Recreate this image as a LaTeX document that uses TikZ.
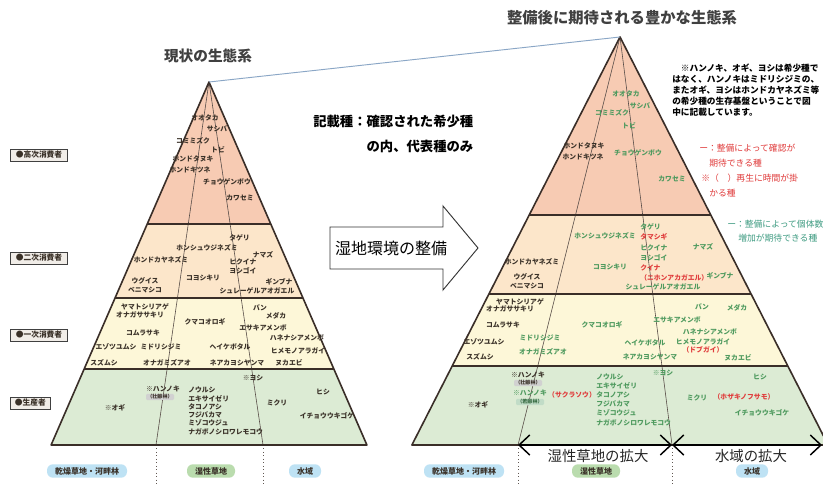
\documentclass[tikz,border=0pt]{standalone}
\usepackage{fontspec}
\setmainfont{Noto Sans CJK JP}
\usetikzlibrary{arrows.meta}
\definecolor{layA}{HTML}{F7CBB3}
\definecolor{layB}{HTML}{FCE6CA}
\definecolor{layC}{HTML}{FDF7D8}
\definecolor{layD}{HTML}{DCEBD4}
\definecolor{edgec}{HTML}{3A2E28}
\definecolor{grn}{HTML}{4E9A5E}
\definecolor{tealc}{HTML}{3F9C82}
\definecolor{redc}{HTML}{E03C3C}
\definecolor{pillb}{HTML}{BEE2F4}
\definecolor{pillg}{HTML}{BADCAE}
\definecolor{boxbg}{HTML}{F1EDE8}
\definecolor{linkc}{HTML}{8AA6C6}
\definecolor{txt}{HTML}{3A3128}
\tikzset{
  sp/.style={font=\fontsize{5.1}{5.5}\selectfont\bfseries, inner sep=0pt, text=txt},
  spg/.style={sp, text=grn},
  spr/.style={sp, text=redc},
  layer/.style={draw=edgec, line width=1.2pt, line join=round},
  inner/.style={draw=edgec!85, line width=0.45pt},
  dots/.style={draw=edgec!80, line width=0.6pt, dotted},
  lvl/.style={draw=black!75, fill=boxbg, line width=0.5pt, font=\fontsize{5.8}{6}\selectfont\bfseries, inner sep=1.5pt, minimum height=9pt, anchor=west, text=txt},
  pill/.style={rounded corners=4.5pt, font=\fontsize{6}{7}\selectfont\bfseries, inner xsep=6pt, inner ysep=2.2pt, text=txt},
  ttl/.style={font=\fontsize{11}{12}\selectfont\bfseries, text=black!75},
  big/.style={font=\fontsize{10.8}{12}\selectfont, text=black!85},
  dbl/.style={line width=1.3pt, {Straight Barb[length=8pt,width=15pt,line width=1.1pt]}-{Straight Barb[length=8pt,width=15pt,line width=1.1pt]}},
  agebox/.style={sp, font=\fontsize{3.8}{4}\selectfont\bfseries, rounded corners=1pt, inner xsep=1pt, inner ysep=0.6pt}
}
\begin{document}
\begin{tikzpicture}[x=0.75pt,y=-0.75pt]
\useasboundingbox (0,0) rectangle (823,484);
\fill[white] (0,0) rectangle (823,484);

% ---------- left pyramid ----------
\coordinate (LA) at (209,82);
\fill[layA] (LA) -- (270.8,224) -- (147.2,224) -- cycle;
\fill[layB] (147.2,224) -- (270.8,224) -- (303,298) -- (115,298) -- cycle;
\fill[layC] (115,298) -- (303,298) -- (333.8,369) -- (84.2,369) -- cycle;
\fill[layD] (84.2,369) -- (333.8,369) -- (366.9,445) -- (51.1,445) -- cycle;
\coordinate (LB1) at (156,445);
\coordinate (LB2) at (263,445);
\coordinate (LE1) at (156,484);
\coordinate (LE2) at (263,484);
\draw[inner] (LA) -- (LB1);
\draw[inner] (LA) -- (LB2);
\draw[dots] (LB1) -- (LE1);
\draw[dots] (LB2) -- (LE2);
\draw[layer] (LA) -- (366.9,445) -- (51.1,445) -- cycle;
\draw[layer] (147.2,224) -- (270.8,224);
\draw[layer] (115,298) -- (303,298);
\draw[layer] (84.2,369) -- (333.8,369);

% ---------- right pyramid ----------
\coordinate (RA) at (620,37);
\fill[layA] (RA) -- (710.8,215) -- (529.2,215) -- cycle;
\fill[layB] (529.2,215) -- (710.8,215) -- (751.1,294) -- (488.9,294) -- cycle;
\fill[layC] (488.9,294) -- (751.1,294) -- (787.8,366) -- (452.2,366) -- cycle;
\fill[layD] (452.2,366) -- (787.8,366) -- (828.1,445) -- (411.9,445) -- cycle;
\coordinate (RB1) at (518,445);
\coordinate (RB2) at (672,445);
\coordinate (RB3) at (822,445);
\coordinate (RE1) at (518,484);
\coordinate (RE2) at (672,484);
\draw[inner] (RA) -- (RB1);
\draw[inner] (RA) -- (RB2);
\draw[dots] (RB1) -- (RE1);
\draw[dots] (RB2) -- (RE2);
\draw[layer] (RA) -- (828.1,445) -- (411.9,445) -- cycle;
\draw[layer] (529.2,215) -- (710.8,215);
\draw[layer] (488.9,294) -- (751.1,294);
\draw[layer] (452.2,366) -- (787.8,366);

% link between apexes
\draw[linkc, line width=0.7pt] (LA) -- (RA);

% titles
\node[ttl] (t1) at (208,56) {現状の生態系};
\node[ttl, font=\fontsize{11.5}{12}\selectfont\bfseries] (t2) at (622,18) {整備後に期待される豊かな生態系};

% level boxes
\node[lvl, minimum width=43pt] (v1) at (10,155) {●高次消費者};
\node[lvl, minimum width=43pt] (v2) at (10,258) {●二次消費者};
\node[lvl, minimum width=43pt] (v3) at (10,335) {●一次消費者};
\node[lvl, minimum width=30pt] (v4) at (10,403) {●生産者};

% central texts
\node[font=\fontsize{10}{11}\selectfont\bfseries, anchor=east, text=black] (k1) at (478,121) {記載種：確認された希少種};
\node[font=\fontsize{10}{11}\selectfont\bfseries, anchor=east, text=black] (k2) at (478,146) {の内、代表種のみ};
\draw[fill=white, line width=0.7pt, draw=black!80] (330,227) -- (443,227) -- (443,206) -- (478,248) -- (443,290) -- (443,269) -- (330,269) -- cycle;
\node[font=\fontsize{12}{13}\selectfont, text=black] (ar) at (391,248) {湿地環境の整備};

% note
\node[anchor=west, align=left, font=\fontsize{6.5}{8.25}\selectfont\bfseries, text=black, inner sep=0pt] (nt) at (672,90)
 {　※ハンノキ、オギ、ヨシは希少種で\\はなく、ハンノキはミドリシジミの、\\またオギ、ヨシはホンドカヤネズミ等\\の希少種の生存基盤ということで図\\中に記載しています。};

% legends
\node[anchor=west, font=\fontsize{6.6}{7}\selectfont, text=redc, inner sep=0pt] (g1) at (699,148) {ー：整備によって確認が};
\node[anchor=west, font=\fontsize{6.6}{7}\selectfont, text=redc, inner sep=0pt] (g2) at (709,163) {期待できる種};
\node[anchor=west, font=\fontsize{6.6}{7}\selectfont, text=redc, inner sep=0pt] (g3) at (701,178) {※（　）再生に時間が掛};
\node[anchor=west, font=\fontsize{6.6}{7}\selectfont, text=redc, inner sep=0pt] (g4) at (709,193) {かる種};
\node[anchor=west, font=\fontsize{6.6}{7}\selectfont, text=tealc, inner sep=0pt] (g5) at (727,224) {ー：整備によって個体数};
\node[anchor=west, font=\fontsize{6.6}{7}\selectfont, text=tealc, inner sep=0pt] (g6) at (738,238) {増加が期待できる種};

% ---------- left pyramid texts ----------
\node[sp] (L1) at (205,118) {オオタカ};
\node[sp] (L2) at (217,129) {サシバ};
\node[sp] (L3) at (193,141) {コミミズク};
\node[sp] (L4) at (218,150) {トビ};
\node[sp] (L5) at (193,159) {ホンドタヌキ};
\node[sp] (L6) at (190,170) {ホンドキツネ};
\node[sp] (L7) at (227,182) {チョウゲンボウ};
\node[sp] (L8) at (240,198) {カワセミ};
\node[sp, anchor=west] (L9) at (229,238) {タゲリ};
\node[sp] (L10) at (207,248) {ホンシュウジネズミ};
\node[sp] (L11) at (263,255) {ナマズ};
\node[sp] (L12) at (161,260) {ホンドカヤネズミ};
\node[sp, anchor=west] (L13) at (229,262) {ヒクイナ};
\node[sp, anchor=west] (L14) at (229,271) {ヨシゴイ};
\node[sp] (L15) at (145,281) {ウグイス};
\node[sp] (L16) at (203,278) {コヨシキリ};
\node[sp] (L17) at (279,282) {ギンブナ};
\node[sp] (L18) at (145,290) {ベニマシコ};
\node[sp] (L19) at (257,291) {シュレーゲルアオガエル};
\node[sp] (L20) at (145,307) {ヤマトシリアゲ};
\node[sp] (L21) at (140,315) {オナガササキリ};
\node[sp] (L22) at (260,308) {バン};
\node[sp] (L23) at (276,316) {メダカ};
\node[sp] (L24) at (205,322) {クマコオロギ};
\node[sp] (L25) at (263,328) {エサキアメンボ};
\node[sp] (L26) at (143,333) {コムラサキ};
\node[sp] (L27) at (297,338) {ハネナシアメンボ};
\node[sp] (L28) at (116,347) {エゾツユムシ};
\node[sp] (L29) at (161,347) {ミドリシジミ};
\node[sp] (L30) at (230,347) {ヘイケボタル};
\node[sp] (L31) at (298,351) {ヒメモノアラガイ};
\node[sp] (L32) at (104,363) {スズムシ};
\node[sp] (L33) at (167,363) {オナガミズアオ};
\node[sp] (L34) at (237,363) {ネアカヨシヤンマ};
\node[sp] (L35) at (289,363) {ヌカエビ};
\node[sp] (L36) at (253,378) {※ヨシ};
\node[sp] (L37) at (163,389) {※ハンノキ};
\node[agebox, fill=black!18] (L38) at (160,397) {（壮齢林）};
\node[sp, anchor=west] (L39) at (188,390) {ノウルシ};
\node[sp, anchor=west] (L40) at (188,399) {エキサイゼリ};
\node[sp, anchor=west] (L41) at (188,407) {タコノアシ};
\node[sp, anchor=west] (L42) at (188,415) {フジバカマ};
\node[sp, anchor=west] (L43) at (188,423) {ミゾコウジュ};
\node[sp, anchor=west] (L44) at (188,432) {ナガボノシロワレモコウ};
\node[sp] (L45) at (115,408) {※オギ};
\node[sp] (L46) at (277,403) {ミクリ};
\node[sp] (L47) at (323,392) {ヒシ};
\node[sp] (L48) at (327,416) {イチョウウキゴケ};

% ---------- right pyramid texts ----------
\node[spg] (R1) at (626,94) {オオタカ};
\node[spg] (R2) at (640,106) {サシバ};
\node[spg] (R3) at (612,113) {コミミズク};
\node[spg] (R4) at (629,126) {トビ};
\node[sp] (R5) at (584,146) {ホンドタヌキ};
\node[sp] (R6) at (583,157) {ホンドキツネ};
\node[spg] (R7) at (638,153) {チョウゲンボウ};
\node[spg] (R8) at (672,179) {カワセミ};
\node[spg, anchor=west] (R9) at (640,227) {タゲリ};
\node[spg] (R10) at (605,236) {ホンシュウジネズミ};
\node[spr, anchor=west] (R11) at (640,237) {タマシギ};
\node[spg, anchor=west] (R12) at (640,248) {ヒクイナ};
\node[spg] (R13) at (703,247) {ナマズ};
\node[sp] (R14) at (532,262) {ホンドカヤネズミ};
\node[spg, anchor=west] (R15) at (640,258) {ヨシゴイ};
\node[spg] (R16) at (610,267) {コヨシキリ};
\node[spr, anchor=west] (R17) at (640,268) {クイナ};
\node[sp] (R18) at (527,277) {ウグイス};
\node[spr, anchor=west] (R19) at (640,278) {（ニホンアカガエル）};
\node[spg] (R20) at (720,276) {ギンブナ};
\node[sp] (R21) at (527,286) {ベニマシコ};
\node[spg] (R22) at (663,287) {シュレーゲルアオガエル};
\node[sp] (R23) at (520,302) {ヤマトシリアゲ};
\node[sp] (R24) at (510,309) {オナガササキリ};
\node[spg] (R25) at (702,307) {バン};
\node[spg] (R26) at (737,308) {メダカ};
\node[spg] (R27) at (677,320) {エサキアメンボ};
\node[sp] (R28) at (503,325) {コムラサキ};
\node[spg] (R29) at (602,325) {クマコオロギ};
\node[spg] (R30) at (710,332) {ハネナシアメンボ};
\node[sp] (R31) at (484,342) {エゾツユムシ};
\node[spg] (R32) at (540,338) {ミドリシジミ};
\node[spg] (R33) at (645,343) {ヘイケボタル};
\node[spg] (R34) at (703,342) {ヒメモノアラガイ};
\node[spr] (R35) at (703,350) {（ドブガイ）};
\node[sp] (R36) at (480,357) {スズムシ};
\node[spg] (R37) at (543,352) {オナガミズアオ};
\node[spg] (R38) at (650,357) {ネアカヨシヤンマ};
\node[spg] (R39) at (738,358) {ヌカエビ};
\node[sp] (R40) at (528,375) {※ハンノキ};
\node[agebox, fill=black!18] (R41) at (528,383) {（壮齢林）};
\node[spg] (R42) at (530,393) {※ハンノキ};
\node[agebox, fill=grn!35, text=grn!70!black] (R43) at (530,402) {（若齢林）};
\node[sp] (R44) at (478,405) {※オギ};
\node[spr] (R45) at (572,395) {（サクラソウ）};
\node[spg, anchor=west] (R46) at (596,377) {ノウルシ};
\node[spg, anchor=west] (R47) at (596,386) {エキサイゼリ};
\node[spg, anchor=west] (R48) at (596,395) {タコノアシ};
\node[spg, anchor=west] (R49) at (596,404) {フジバカマ};
\node[spg, anchor=west] (R50) at (596,413) {ミゾコウジュ};
\node[spg, anchor=west] (R51) at (596,423) {ナガボノシロワレモコウ};
\node[spg] (R52) at (663,373) {※ヨシ};
\node[spg] (R53) at (697,398) {ミクリ};
\node[spr] (R54) at (744,397) {（ホザキノフサモ）};
\node[spg] (R55) at (760,377) {ヒシ};
\node[spg] (R56) at (762,413) {イチョウウキゴケ};

% expansion arrows
\draw[dbl] (RB1) -- (RB2);
\draw[dbl] (RB2) -- (RB3);
\node[big] (x1) at (598,456) {湿性草地の拡大};
\node[big] (x2) at (751,456) {水域の拡大};

% habitat pills
\node[pill, fill=pillb] (p1) at (87,471) {乾燥草地・河畔林};
\node[pill, fill=pillg] (p2) at (211,471) {湿性草地};
\node[pill, fill=pillb] (p3) at (305,471) {水域};
\node[pill, fill=pillb] (p4) at (464,471) {乾燥草地・河畔林};
\node[pill, fill=pillg] (p5) at (596,471) {湿性草地};
\node[pill, fill=pillb] (p6) at (752,471) {水域};
\end{tikzpicture}
\end{document}
